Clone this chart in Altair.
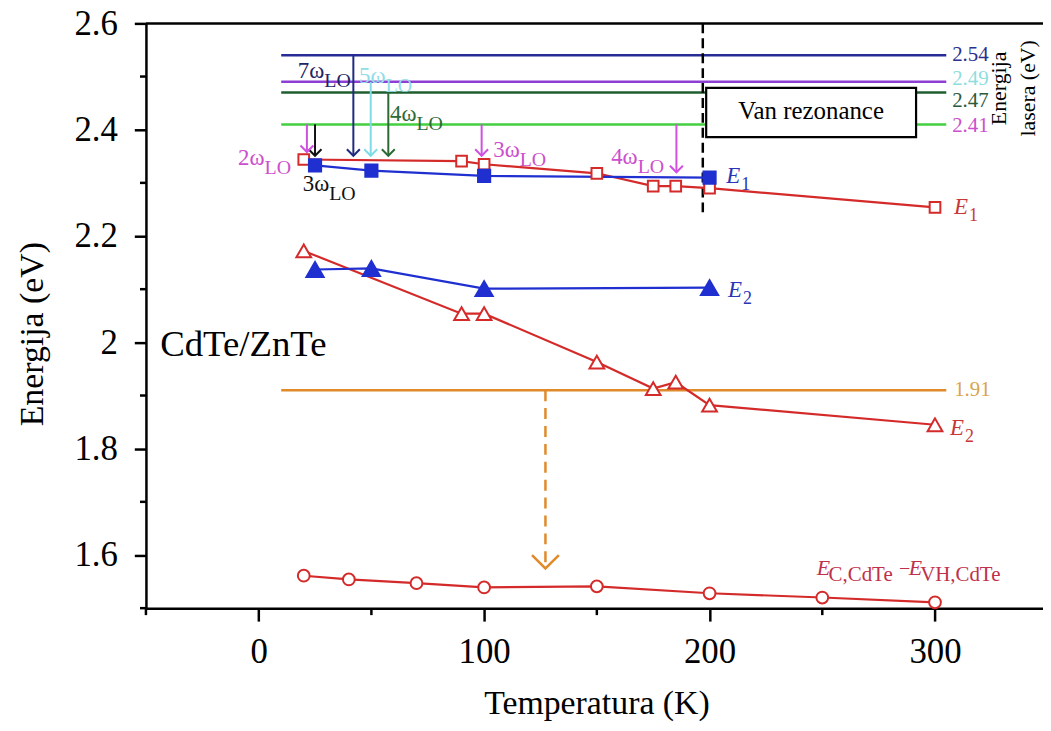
import altair as alt
import pandas as pd

FONT = "Liberation Serif"

# ---------------- data ----------------
T_E1_red = [20, 90, 100, 150, 175, 185, 200, 300]
E_E1_red = [2.344, 2.341, 2.335, 2.318, 2.294, 2.294, 2.290, 2.254]
T_E1_blue = [25, 50, 100, 200]
E_E1_blue = [2.333, 2.323, 2.313, 2.310]
T_E2_blue = [25, 50, 100, 200]
E_E2_blue = [2.137, 2.139, 2.101, 2.103]
T_E2_red = [20, 90, 100, 150, 175, 185, 200, 300]
E_E2_red = [2.172, 2.054, 2.054, 1.963, 1.913, 1.925, 1.882, 1.845]
T_gap = [20, 40, 70, 100, 150, 200, 250, 300]
E_gap = [1.561, 1.554, 1.547, 1.539, 1.541, 1.528, 1.520, 1.511]

laser_E = [2.54, 2.49, 2.47, 2.41]
laser_text = ["2.54", "2.49", "2.47", "2.41"]
laser_line_colors = ["#262b96", "#8d3fd4", "#1f5e2e", "#43cf3f"]
laser_text_colors = ["#2b2f8f", "#8fdede", "#2c5a3c", "#cc4fcc"]
laser_text_E = [2.541, 2.495, 2.454, 2.407]
ref_T = [10, 305]
orange_E = 1.91
orange_color = "#e08a2a"

arrow_T = [42, 49.7, 57.5, 25, 21.4, 98.9, 185.3]
arrow_from = [2.54, 2.49, 2.47, 2.41, 2.41, 2.41, 2.41]
arrow_to = [2.351, 2.351, 2.351, 2.351, 2.358, 2.351, 2.320]
arrow_colors = ["#1f2a80", "#7fdce6", "#2c6a35", "#111111", "#d050e0", "#d050e0", "#d050e0"]

omega_main = ["7ω", "5ω", "4ω", "2ω", "3ω", "3ω", "4ω"]
omega_T = [29.1, 56.3, 70.0, 2.6, 31.3, 115.8, 168.1]
omega_E = [2.498, 2.487, 2.417, 2.334, 2.285, 2.348, 2.336]
omega_colors = ["#1f2566", "#8fdde8", "#2e6b3a", "#cc4fcc", "#111111", "#cc4fcc", "#cc4fcc"]

elab_T = [213.6, 314.6, 214.4, 312.9]
elab_E = [2.2995, 2.2408, 2.0844, 1.8254]
elab_sub = ["1", "1", "2", "2"]
elab_colors = ["#2a35b5", "#c83838", "#2a35b5", "#c83838"]

gap_label_T = [247.5, 252.8, 284.0, 288.3, 293.4]
gap_label_text = ["E", "C,CdTe", "−", "E", "VH,CdTe"]
gap_label_kind = ["main", "sub", "minus", "main", "sub"]

dash_T = 197
dash_E = [2.6, 2.239]
orange_arrow_T = 127.2
orange_arrow_E = [1.91, 1.5747]

box_T = [198.5, 291.6]
box_E = [2.4788, 2.3862]

x_major = [0, 100, 200, 300]
x_minor = [-50, 50, 150, 250]
y_major = [1.6, 1.8, 2.0, 2.2, 2.4, 2.6]
y_minor = [1.5, 1.7, 1.9, 2.1, 2.3, 2.5]

RED = "#d42a2a"
BLUE = "#1f2fd0"

W, H = 902, 588

xscale = alt.Scale(domain=[-50, 347.9], nice=False, zero=False)
yscale = alt.Scale(domain=[1.5, 2.6], nice=False, zero=False)

xaxis = alt.Axis(values=x_major, title="Temperatura (K)", grid=False,
                 labelFont=FONT, labelFontSize=35, labelColor="black", labelPadding=14,
                 labelFlush=False, labelOverlap=False, format="d",
                 tickSize=13, tickWidth=2.5, tickColor="black",
                 domainWidth=2.5, domainColor="black",
                 titleFont=FONT, titleFontSize=34, titleFontWeight="normal", titleColor="black",
                 titleX=453, titleY=106, titleAlign="center", titleBaseline="alphabetic")
yaxis = alt.Axis(values=y_major, title="Energija (eV)", grid=False,
                 labelFont=FONT, labelFontSize=35, labelColor="black", labelPadding=17,
                 labelFlush=False, labelOverlap=False, format="~g",
                 tickSize=11.7, tickWidth=2.5, tickColor="black",
                 domainWidth=2.5, domainColor="black",
                 titleFont=FONT, titleFontSize=34, titleFontWeight="normal", titleColor="black",
                 titleX=-104, titleY=312, titleAngle=270, titleAlign="center",
                 titleBaseline="alphabetic")


def X(f):
    return alt.X(f, type="quantitative", scale=xscale, axis=xaxis)


def Y(f):
    return alt.Y(f, type="quantitative", scale=yscale, axis=yaxis)


layers = []

# laser reference lines and orange 1.91 line
df_laser = pd.DataFrame({"T": ref_T[0], "T2": ref_T[1], "E": laser_E, "c": laser_line_colors})
layers.append(alt.Chart(df_laser).mark_rule(strokeWidth=2.5).encode(
    x=X("T"), x2="T2", y=Y("E"), color=alt.Color("c:N", scale=None)))
df_or = pd.DataFrame({"T": [ref_T[0]], "T2": [ref_T[1]], "E": [orange_E]})
layers.append(alt.Chart(df_or).mark_rule(strokeWidth=2.5, color=orange_color).encode(
    x=X("T"), x2="T2", y=Y("E")))

# "Van rezonance" box
df_box = pd.DataFrame({"T": [box_T[0]], "T2": [box_T[1]], "E": [box_E[0]], "E2": [box_E[1]]})
layers.append(alt.Chart(df_box).mark_rect(fill="white", stroke="black", strokeWidth=2.2).encode(
    x=X("T"), x2="T2", y=Y("E"), y2="E2"))
layers.append(alt.Chart(pd.DataFrame({"T": [sum(box_T) / 2], "E": [2.4198], "t": ["Van rezonance"]}))
              .mark_text(font=FONT, fontSize=25, align="center", baseline="alphabetic", color="black")
              .encode(x=X("T"), y=Y("E"), text="t:N"))

# dashed vertical line
df_dash = pd.DataFrame({"T": [dash_T], "E": [dash_E[0]], "E2": [dash_E[1]]})
layers.append(alt.Chart(df_dash).mark_rule(strokeWidth=2.5, strokeDash=[10, 5], color="black").encode(
    x=X("T"), y=Y("E"), y2="E2"))

# orange dashed arrow
df_oa = pd.DataFrame({"T": [orange_arrow_T], "E": [orange_arrow_E[0]], "E2": [orange_arrow_E[1]]})
layers.append(alt.Chart(df_oa).mark_rule(strokeWidth=2.5, strokeDash=[11, 7], color=orange_color).encode(
    x=X("T"), y=Y("E"), y2="E2"))
layers.append(alt.Chart(pd.DataFrame({"T": [orange_arrow_T], "E": [orange_arrow_E[1]]}))
              .mark_point(shape="M-1,-1L0,0L1,-1", filled=False, size=729, strokeWidth=2.5,
                          color=orange_color, opacity=1)
              .encode(x=X("T"), y=Y("E")))

# series lines
def series(T, E, color):
    return alt.Chart(pd.DataFrame({"T": T, "E": E})).mark_line(color=color, strokeWidth=2.2).encode(
        x=X("T"), y=Y("E"))


layers.append(series(T_E2_red, E_E2_red, RED))
layers.append(series(T_E2_blue, E_E2_blue, BLUE))
layers.append(series(T_E1_red, E_E1_red, RED))
layers.append(series(T_E1_blue, E_E1_blue, BLUE))
layers.append(series(T_gap, E_gap, RED))

# arrows
df_ar = pd.DataFrame({"T": arrow_T, "E": arrow_from, "E2": arrow_to, "c": arrow_colors})
layers.append(alt.Chart(df_ar).mark_rule(strokeWidth=2).encode(
    x=X("T"), y=Y("E"), y2="E2", color=alt.Color("c:N", scale=None)))
df_head = pd.DataFrame({"T": arrow_T, "E": arrow_to, "c": arrow_colors})
layers.append(alt.Chart(df_head).mark_point(shape="M-1,-1L0,0L1,-1", filled=False, size=169,
                                            strokeWidth=2, opacity=1).encode(
    x=X("T"), y=Y("E"), color=alt.Color("c:N", scale=None)))

# markers
def pts(T, E, shape, size, fill, stroke):
    return alt.Chart(pd.DataFrame({"T": T, "E": E})).mark_point(
        shape=shape, size=size, filled=True, fill=fill, stroke=stroke, strokeWidth=2,
        opacity=1, fillOpacity=1).encode(x=X("T"), y=Y("E"))


layers.append(pts(T_E2_red, E_E2_red, "triangle-up", 220, "white", RED))
layers.append(pts(T_E2_blue, E_E2_blue, "triangle-up", 300, BLUE, BLUE))
layers.append(pts(T_E1_red, E_E1_red, "square", 115, "white", RED))
layers.append(pts(T_E1_blue, E_E1_blue, "square", 150, BLUE, BLUE))
layers.append(pts(T_gap, E_gap, "circle", 140, "white", RED))

# laser value labels and 1.91
df_lt = pd.DataFrame({"T": 307.6, "E": laser_text_E, "t": laser_text, "c": laser_text_colors})
layers.append(alt.Chart(df_lt).mark_text(font=FONT, fontSize=21, align="left", baseline="middle").encode(
    x=X("T"), y=Y("E"), text="t:N", color=alt.Color("c:N", scale=None)))
layers.append(alt.Chart(pd.DataFrame({"T": [308.5], "E": [1.911], "t": ["1.91"]}))
              .mark_text(font=FONT, fontSize=21, align="left", baseline="middle", color="#d9a44e")
              .encode(x=X("T"), y=Y("E"), text="t:N"))

# "Energija lasera (eV)" rotated
df_el = pd.DataFrame({"T": [331.3, 344.5], "E": [2.4778, 2.4778], "t": ["Energija", "lasera (eV)"]})
layers.append(alt.Chart(df_el).mark_text(font=FONT, fontSize=22, align="center", baseline="alphabetic",
                                         angle=270, color="black").encode(
    x=X("T"), y=Y("E"), text="t:N"))

# omega labels
df_om = pd.DataFrame({"T": omega_T, "E": omega_E, "t": omega_main, "c": omega_colors})
layers.append(alt.Chart(df_om).mark_text(font=FONT, fontSize=23, align="right", baseline="alphabetic").encode(
    x=X("T"), y=Y("E"), text="t:N", color=alt.Color("c:N", scale=None)))
df_om_sub = pd.DataFrame({"T": omega_T, "E": omega_E, "t": ["LO"] * len(omega_T), "c": omega_colors})
layers.append(alt.Chart(df_om_sub).mark_text(font=FONT, fontSize=20, align="left", baseline="alphabetic",
                                             dy=9).encode(
    x=X("T"), y=Y("E"), text="t:N", color=alt.Color("c:N", scale=None)))

# E labels
df_e = pd.DataFrame({"T": elab_T, "E": elab_E, "t": ["E"] * 4, "c": elab_colors})
layers.append(alt.Chart(df_e).mark_text(font=FONT, fontSize=23, fontStyle="italic", align="right",
                                        baseline="alphabetic").encode(
    x=X("T"), y=Y("E"), text="t:N", color=alt.Color("c:N", scale=None)))
df_es = pd.DataFrame({"T": elab_T, "E": elab_E, "t": elab_sub, "c": elab_colors})
layers.append(alt.Chart(df_es).mark_text(font=FONT, fontSize=18, align="left", baseline="alphabetic",
                                         dx=1, dy=7).encode(
    x=X("T"), y=Y("E"), text="t:N", color=alt.Color("c:N", scale=None)))

# E_C,CdTe - E_VH,CdTe label
GAPC = "#c0304a"
for T, t, k in zip(gap_label_T, gap_label_text, gap_label_kind):
    if k == "main":
        props = dict(fontSize=22, fontStyle="italic", dy=0)
    elif k == "sub":
        props = dict(fontSize=21, fontStyle="normal", dy=6)
    else:
        props = dict(fontSize=20, fontStyle="normal", dy=0)
    layers.append(alt.Chart(pd.DataFrame({"T": [T], "E": [1.5624], "t": [t]}))
                  .mark_text(font=FONT, align="left", baseline="alphabetic", color=GAPC, **props)
                  .encode(x=X("T"), y=Y("E"), text="t:N"))

# sample label
layers.append(alt.Chart(pd.DataFrame({"T": [-43.7], "E": [1.974], "t": ["CdTe/ZnTe"]}))
              .mark_text(font=FONT, fontSize=37, align="left", baseline="alphabetic", color="black")
              .encode(x=X("T"), y=Y("E"), text="t:N"))

# frame top line and minor ticks
layers.append(alt.Chart(pd.DataFrame({"E": [2.6]})).mark_rule(strokeWidth=2.5, color="black").encode(
    y=Y("E"), x=alt.value(0), x2=alt.value(W)))
layers.append(alt.Chart(pd.DataFrame({"T": x_minor})).mark_rule(strokeWidth=2.5, color="black").encode(
    x=X("T"), y=alt.value(H), y2=alt.value(H + 7)))
layers.append(alt.Chart(pd.DataFrame({"E": y_minor})).mark_rule(strokeWidth=2.5, color="black").encode(
    y=Y("E"), x=alt.value(0), x2=alt.value(-6)))

chart = alt.layer(*layers).properties(
    width=W, height=H,
    autosize=alt.AutoSizeParams(type="none"),
    padding={"left": 138.7, "top": 13.5, "right": 0, "bottom": 113},
    background="white",
).configure_view(stroke=None)

chart.save("out.html", embed_options={"renderer": "svg", "actions": False})
